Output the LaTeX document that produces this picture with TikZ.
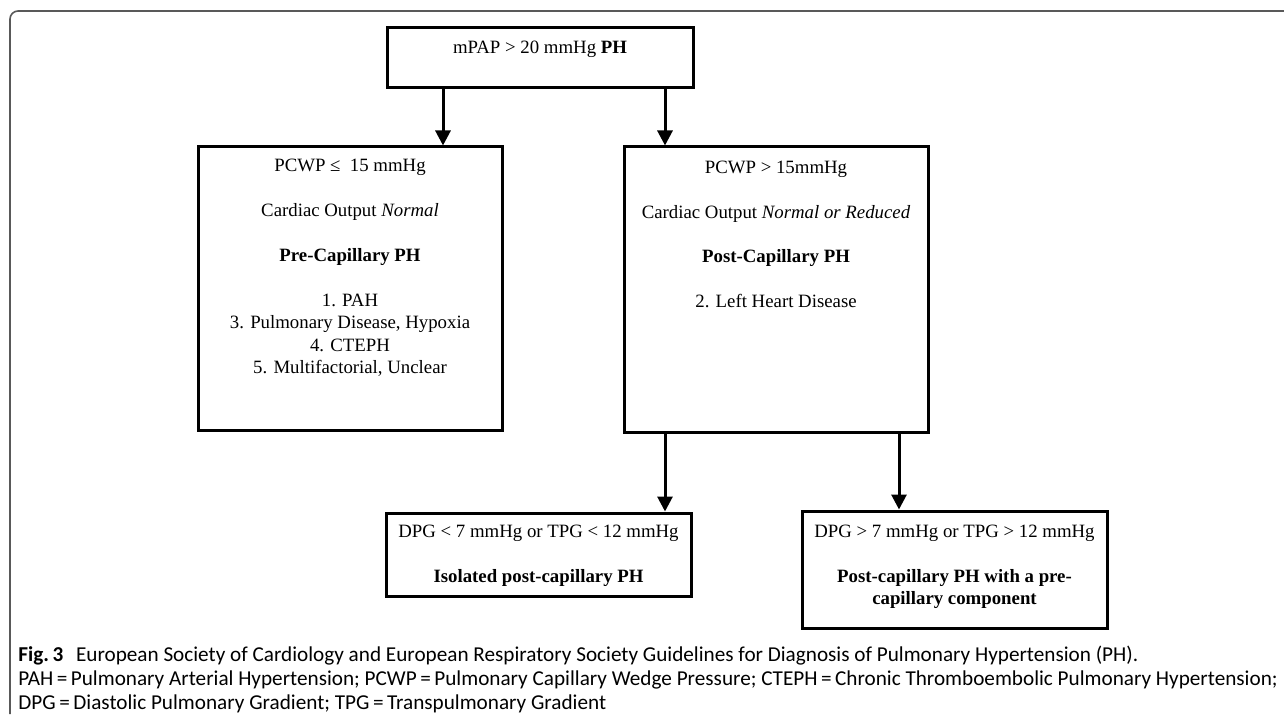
\documentclass[tikz,border=0pt]{standalone}
\usepackage{fontspec}
\setmainfont{Liberation Serif}
\newfontfamily\capfont{Carlito}
\usetikzlibrary{arrows.meta,positioning}

\begin{document}
\begin{tikzpicture}[x=0.5pt,y=-0.5pt,
  phbox/.style={draw,line width=1.5pt,inner sep=0pt},
  boxtext/.style={anchor=north,inner sep=0pt,align=center,
    font=\fontsize{9.4pt}{11.25pt}\selectfont},
  flow/.style={line width=1.5pt,-{Triangle[width=7.5pt,length=7.5pt]}},
  capt/.style={anchor=north west,inner sep=0pt,align=left,
    font=\capfont\fontsize{10.6pt}{11.8pt}\selectfont}]

\useasboundingbox (0,0) rectangle (1284,721);

% frame of the figure
\draw [black!65,line width=0.8pt,rounded corners=4pt] (10,714) -- (10,11) -- (1284,11);

% boxes
\node [phbox,minimum width=153pt,minimum height=30pt] (top) at (540,58) {};
\node [phbox,minimum width=152pt,minimum height=141.5pt] (pre) at (350,288.5) {};
\node [phbox,minimum width=152pt,minimum height=142.5pt] (post) at (776,289.5) {};
\node [phbox,minimum width=152.5pt,minimum height=41.5pt] (ipc) at (538.5,554.5) {};
\node [phbox,minimum width=152.5pt,minimum height=58.5pt] (cpc) at (954.5,569.5) {};

% texts in the boxes
\node [boxtext] (toptext) at ([yshift=-7pt]top.north) {mPAP > 20 mmHg \textbf{PH}};
\node [boxtext] (pretext) at ([yshift=-6.5pt]pre.north) {PCWP ≤~~15 mmHg\\[11.25pt]
  Cardiac Output \textit{Normal}\\[11.25pt]
  \textbf{Pre-Capillary PH}\\[11.25pt]
  1. PAH\\ 3. Pulmonary Disease, Hypoxia\\ 4. CTEPH\\ 5. Multifactorial, Unclear};
\node [boxtext] (posttext) at ([yshift=-7.5pt]post.north) {PCWP > 15mmHg\\[11.25pt]
  Cardiac Output \textit{Normal or Reduced}\\[11pt]
  \textbf{Post-Capillary PH}\\[11.25pt]
  2. Left Heart Disease};
\node [boxtext] (ipctext) at ([yshift=-6.5pt]ipc.north) {DPG < 7 mmHg or TPG < 12 mmHg\\[11.25pt]
  \textbf{Isolated post-capillary PH}};
\node [boxtext] (cpctext) at ([yshift=-7.5pt]cpc.north) {DPG > 7 mmHg or TPG > 12 mmHg\\[11.25pt]
  \textbf{Post-capillary PH with a pre-}\\ \textbf{capillary component}};

% arrows
\coordinate (c1) at (443,0);
\coordinate (c2) at (665,0);
\coordinate (c3) at (899,0);
\draw [flow] (top.south -| c1) -- (pre.north -| c1);
\draw [flow] (top.south -| c2) -- (post.north -| c2);
\draw [flow] (post.south -| c2) -- (ipc.north -| c2);
\draw [flow] (post.south -| c3) -- (cpc.north -| c3);

% caption
\node [capt] (caption) at (18,646) {\textbf{Fig.\,3}\hspace{0.6em}European Society of Cardiology and European Respiratory Society Guidelines for Diagnosis of Pulmonary Hypertension (PH).\\
PAH\,=\,Pulmonary Arterial Hypertension; PCWP\,=\,Pulmonary Capillary Wedge Pressure; CTEPH\,=\,Chronic Thromboembolic Pulmonary Hypertension;\\
DPG\,=\,Diastolic Pulmonary Gradient; TPG\,=\,Transpulmonary Gradient};

\end{tikzpicture}
\end{document}
